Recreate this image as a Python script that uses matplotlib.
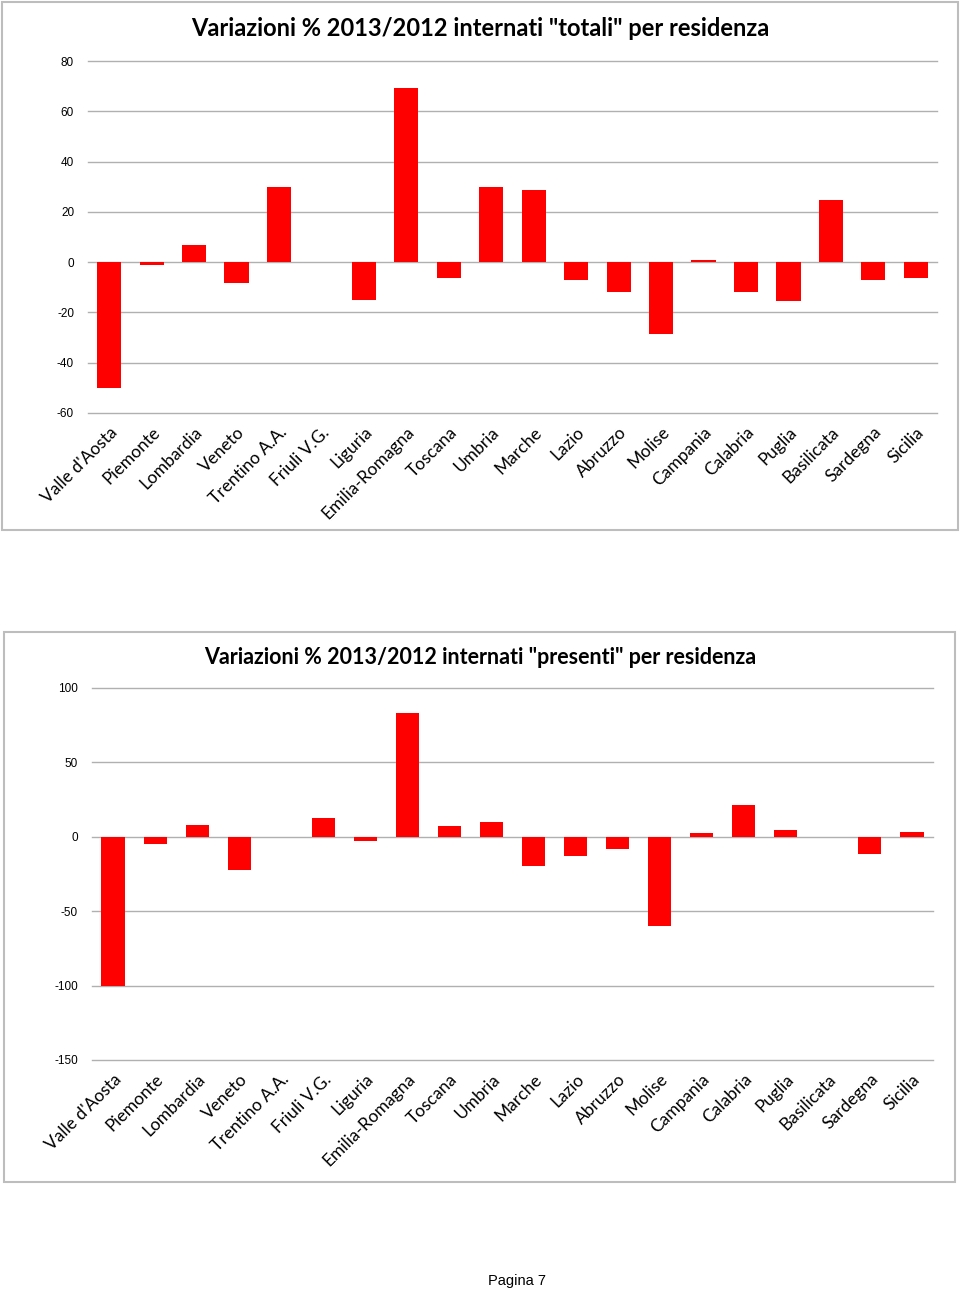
#! /usr/bin/env python3

import numpy as np
from matplotlib import pyplot as plt
from matplotlib.patches import Rectangle

regioni = ["Valle d'Aosta", "Piemonte", "Lombardia", "Veneto", "Trentino A.A.",
           "Friuli V.G.", "Liguria", "Emilia-Romagna", "Toscana", "Umbria",
           "Marche", "Lazio", "Abruzzo", "Molise", "Campania", "Calabria",
           "Puglia", "Basilicata", "Sardegna", "Sicilia"]

totali = [-50.0, -1.0, 7.0, -8.3, 30.0, 0.0, -15.0, 69.2, -6.5, 30.0,
          28.6, -7.0, -12.0, -28.6, 1.0, -12.0, -15.5, 24.7, -7.3, -6.5]

presenti = [-100.0, -4.7, 8.0, -22.0, 0.0, 12.5, -2.7, 83.3, 7.3, 10.0,
            -19.5, -12.8, -8.0, -60.0, 2.7, 21.5, 4.7, 0.0, -11.4, 3.3]

titolo_1 = 'Variazioni % 2013/2012 internati "totali" per residenza'
titolo_2 = 'Variazioni % 2013/2012 internati "presenti" per residenza'

W, H = 960, 1290
FONT = ["Lato", "DejaVu Sans"]

plt.rcParams["axes.unicode_minus"] = False


def px_axes(fig, x0, y0, x1, y1):
    return fig.add_axes([x0 / W, 1 - y1 / H, (x1 - x0) / W, (y1 - y0) / H])


def box(fig, x0, y0, x1, y1):
    fig.patches.append(Rectangle((x0 / W, 1 - y1 / H), (x1 - x0) / W, (y1 - y0) / H,
                                 transform=fig.transFigure, fill=False,
                                 edgecolor="#bdbdbd", linewidth=1.5))


def draw(ax, values, ylim, step, width):
    x = np.arange(len(regioni))
    ax.set_ylim(*ylim)
    ax.set_xlim(-0.5, len(regioni) - 0.5)
    ax.set_yticks(np.arange(ylim[0], ylim[1] + 1, step))
    for t in ax.get_yticks():
        ax.axhline(t, color="#b0b0b0", linewidth=1.0, zorder=0, clip_on=False)
    ax.bar(x, values, width=width, color="#ff0000", zorder=2)
    ax.set_xticks(x)
    ax.set_xticklabels(regioni, rotation=45, ha="right", rotation_mode="anchor",
                       fontsize=12.5, family=FONT)
    for lab in ax.get_yticklabels():
        lab.set_family(["Liberation Sans"])
        lab.set_fontsize(8.5)
    ax.tick_params(length=0, axis="y", pad=10)
    ax.tick_params(length=0, axis="x", pad=8)
    for s in ax.spines.values():
        s.set_visible(False)


def main():
    fig = plt.figure(figsize=(W / 100, H / 100), dpi=100)

    box(fig, 2, 2, 958, 530)
    ax1 = px_axes(fig, 88, 61, 937, 413)
    draw(ax1, totali, (-60, 80), 20, 0.57)
    fig.text(480 / W, 1 - 28 / H, titolo_1, ha="center", va="center",
             fontsize=17, fontweight="bold", family=FONT)

    box(fig, 4, 632, 955, 1182)
    ax2 = px_axes(fig, 92, 688, 933, 1060)
    draw(ax2, presenti, (-150, 100), 50, 0.55)
    fig.text(480 / W, 1 - 657 / H, titolo_2, ha="center", va="center",
             fontsize=15.5, fontweight="bold", family=FONT)

    fig.text(517 / W, 1 - 1281 / H, "Pagina 7", ha="center", va="center",
             fontsize=10.5, family=["Liberation Sans"])

    fig.savefig("out.png", dpi=100)


if __name__ == "__main__":
    main()
